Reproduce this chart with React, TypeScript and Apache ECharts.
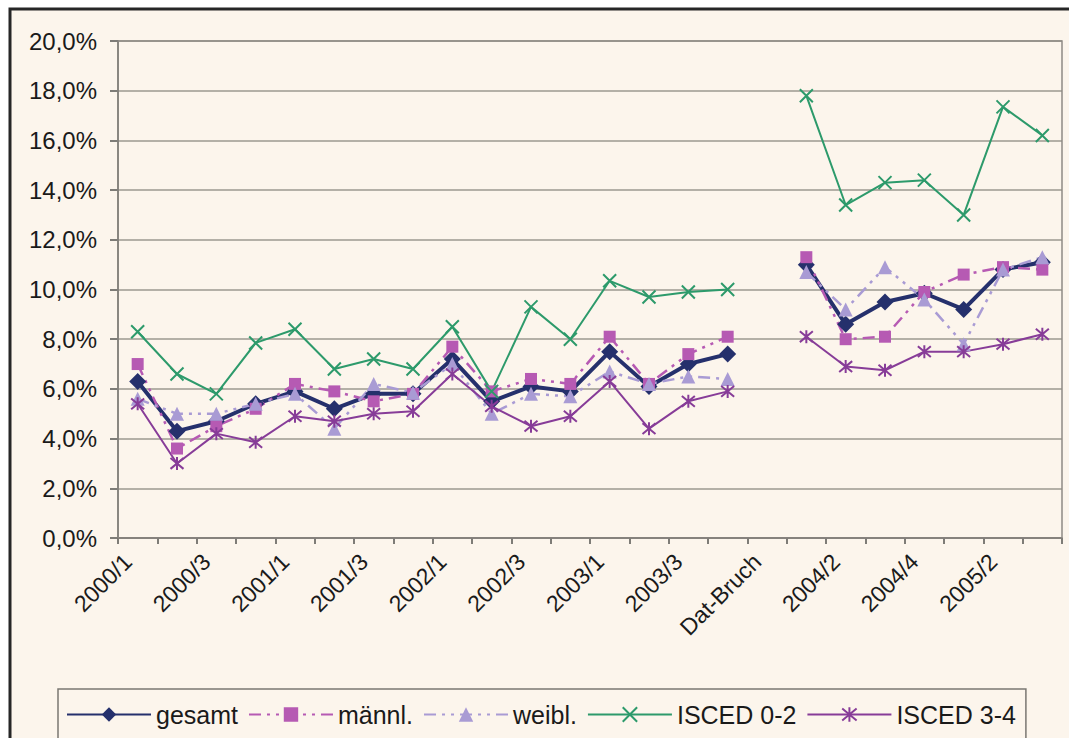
import React, { useEffect, useRef } from "react";
import * as echarts from "echarts";

// Quarterly rates in percent; "Dat-Bruch" marks the break in the data series.
const categories = [
  "2000/1", "2000/2", "2000/3", "2000/4",
  "2001/1", "2001/2", "2001/3", "2001/4",
  "2002/1", "2002/2", "2002/3", "2002/4",
  "2003/1", "2003/2", "2003/3", "2003/4",
  "Dat-Bruch",
  "2004/1", "2004/2", "2004/3", "2004/4",
  "2005/1", "2005/2", "2005/3",
];

const gesamt = [6.3, 4.3, 4.7, 5.4, 5.9, 5.2, 5.8, 5.8, 7.2, 5.5, 6.1, 5.9, 7.5, 6.1, 7.0, 7.4, null, 11.0, 8.6, 9.5, 9.85, 9.2, 10.8, 11.1];
const maennl = [7.0, 3.6, 4.5, 5.2, 6.2, 5.9, 5.5, 5.8, 7.7, 5.9, 6.4, 6.2, 8.1, 6.2, 7.4, 8.1, null, 11.3, 8.0, 8.1, 9.9, 10.6, 10.9, 10.8];
const weibl = [5.6, 5.0, 5.0, 5.4, 5.8, 4.4, 6.2, 5.85, 7.0, 5.0, 5.8, 5.7, 6.7, 6.2, 6.5, 6.4, null, 10.7, 9.2, 10.9, 9.6, 7.8, 10.8, 11.3];
const isced02 = [8.3, 6.6, 5.8, 7.85, 8.4, 6.8, 7.2, 6.8, 8.5, 5.9, 9.3, 8.0, 10.35, 9.7, 9.9, 10.0, null, 17.8, 13.4, 14.3, 14.4, 13.0, 17.35, 16.2];
const isced34 = [5.4, 3.0, 4.2, 3.85, 4.9, 4.7, 5.0, 5.1, 6.6, 5.3, 4.5, 4.9, 6.3, 4.4, 5.5, 5.9, null, 8.1, 6.9, 6.75, 7.5, 7.5, 7.8, 8.2];

const yMin = 0;
const yMax = 20;
const yStep = 2;

const FONT = "'Liberation Sans', Arial, Helvetica, sans-serif";
const CREAM = "#FCF5EC";

const CROSS = "path://M0 0L10 10M10 0L0 10";
const STAR = "path://M0 0L10 10M10 0L0 10M5 -1L5 11";

export default function App() {
  const ref = useRef<HTMLDivElement>(null);

  useEffect(() => {
    if (!ref.current) return;
    const chart = echarts.init(ref.current, undefined, { renderer: "svg" });

    const lineSeries = (
      name: string,
      data: (number | null)[],
      color: string,
      width: number,
      type: any,
      symbol: string,
      symbolSize: number,
      stroked: boolean
    ) => ({
      name,
      type: "line",
      data,
      connectNulls: false,
      symbol,
      symbolSize,
      showSymbol: true,
      lineStyle: { color, width, type },
      itemStyle: stroked
        ? { color: "transparent", borderColor: color, borderWidth: 2 }
        : { color, borderColor: color, borderWidth: 0 },
      emphasis: { disabled: true },
    });

    chart.setOption({
      animation: false,
      backgroundColor: "#ffffff",
      textStyle: { fontFamily: FONT },
      graphic: [
        {
          type: "rect",
          z: -10,
          silent: true,
          shape: { x: 10, y: 9, width: 1090, height: 760 },
          style: { fill: CREAM, stroke: "#262626", lineWidth: 3 },
        },
      ],
      grid: {
        left: 118,
        top: 41,
        right: 7,
        bottom: 200,
        show: true,
        backgroundColor: "transparent",
        borderColor: "#8f8b85",
        borderWidth: 1.5,
        z: 1,
      },
      legend: {
        left: 58,
        top: 689,
        orient: "horizontal",
        itemWidth: 84,
        itemHeight: 18,
        itemGap: 10,
        padding: [13, 10, 13, 8],
        borderColor: "#7a7772",
        borderWidth: 1.5,
        backgroundColor: CREAM,
        textStyle: { fontSize: 25, color: "#1a1a1a", fontFamily: FONT },
        data: ["gesamt", "männl.", "weibl.", "ISCED 0-2", "ISCED 3-4"],
      },
      xAxis: {
        type: "category",
        data: categories,
        boundaryGap: true,
        axisLine: { lineStyle: { color: "#555350", width: 1.5 } },
        axisTick: { show: true, interval: 0, length: 6, lineStyle: { color: "#555350", width: 1.5 } },
        axisLabel: {
          interval: 1,
          rotate: 45,
          fontSize: 23,
          color: "#1a1a1a",
          fontFamily: FONT,
          margin: 10,
          padding: [0, 14, 0, 0],
        },
        splitLine: { show: false },
      },
      yAxis: {
        type: "value",
        min: yMin,
        max: yMax,
        interval: yStep,
        axisLine: { show: true, lineStyle: { color: "#555350", width: 1.5 } },
        axisTick: { show: true, length: 8, lineStyle: { color: "#555350", width: 1.5 } },
        axisLabel: {
          fontSize: 24,
          color: "#1a1a1a",
          fontFamily: FONT,
          margin: 21,
          formatter: (v: number) => v.toFixed(1).replace(".", ",") + "%",
        },
        splitLine: { show: true, lineStyle: { color: "#9c9891", width: 1.5 } },
      },
      series: [
        lineSeries("gesamt", gesamt, "#25306C", 4, "solid", "diamond", 17, false),
        lineSeries("männl.", maennl, "#B65AB3", 2.5, [12, 6, 3, 6, 3, 6], "rect", 12, false),
        lineSeries("weibl.", weibl, "#A99BD4", 2.5, [12, 6, 3, 6, 3, 6], "triangle", 14, false),
        lineSeries("ISCED 0-2", isced02, "#2D9A6B", 2, "solid", CROSS, 13, true),
        lineSeries("ISCED 3-4", isced34, "#873C98", 2, "solid", STAR, 13, true),
      ],
    });

    return () => chart.dispose();
  }, []);

  return (
    <div
      ref={ref}
      style={{ position: "fixed", left: 0, top: 0, width: 1069, height: 738, background: "#ffffff" }}
    />
  );
}
